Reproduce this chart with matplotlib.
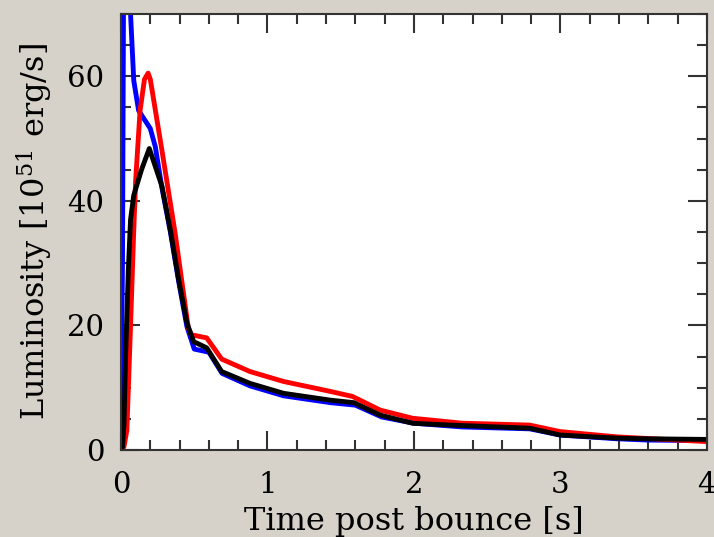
import matplotlib
matplotlib.use("Agg")
import matplotlib.pyplot as plt
from matplotlib.ticker import MultipleLocator

# Data
t_blue = [0.0, 0.01, 0.02, 0.03, 0.05, 0.065, 0.087, 0.12, 0.2, 0.234, 0.28, 0.337,
          0.394, 0.45, 0.5, 0.6, 0.69, 0.88, 1.11, 1.43, 1.6, 1.78, 2.0, 2.33, 2.79,
          3.0, 3.39, 3.59, 4.0]
L_blue = [6.7, 30.0, 90.0, 120.0, 95.0, 70.0, 59.3, 54.5, 51.6, 48.7, 42.0, 35.0,
          27.0, 19.8, 16.2, 15.7, 12.3, 10.3, 8.7, 7.6, 7.2, 5.3, 4.3, 3.7, 3.4,
          2.4, 1.8, 1.6, 1.5]

t_red = [0.0, 0.02, 0.04, 0.064, 0.087, 0.1, 0.13, 0.16, 0.185, 0.2, 0.28, 0.35,
         0.37, 0.46, 0.48, 0.585, 0.687, 0.88, 1.11, 1.43, 1.58, 1.77, 1.99, 2.33,
         2.79, 3.0, 3.39, 4.0]
L_red = [0.0, 0.5, 3.2, 19.3, 35.3, 43.3, 54.5, 59.5, 60.5, 59.5, 48.0, 37.7,
         34.7, 19.5, 18.5, 18.0, 14.6, 12.6, 11.0, 9.4, 8.6, 6.4, 5.1, 4.3,
         4.0, 2.95, 2.1, 1.35]

t_black = [0.0, 0.01, 0.02, 0.03, 0.05, 0.065, 0.087, 0.14, 0.193, 0.28, 0.337,
           0.394, 0.45, 0.496, 0.585, 0.687, 0.88, 1.11, 1.43, 1.59, 1.77, 1.99,
           2.25, 2.79, 3.0, 3.39, 3.59, 4.0]
L_black = [0.0, 0.5, 4.0, 14.0, 29.0, 37.0, 40.9, 45.0, 48.4, 42.3, 35.3,
           27.3, 20.4, 17.4, 16.4, 12.6, 10.7, 9.1, 8.0, 7.6, 5.6, 4.3,
           4.0, 3.5, 2.4, 1.9, 1.8, 1.7]

x_ticks = [0, 1, 2, 3, 4]
y_ticks = [0, 20, 40, 60]

plt.rcParams['font.family'] = ['DejaVu Serif']
plt.rcParams['mathtext.fontset'] = 'dejavuserif'
plt.rcParams['mathtext.default'] = 'regular'

bg = '#d6d1c9'
fig = plt.figure(figsize=(7.14, 5.37), dpi=100, facecolor=bg)
ax = fig.add_axes([0.1695, 0.162, 0.8205, 0.812])

lw = 3.5
ax.plot(t_blue, L_blue, color='#0000ff', lw=lw, solid_joinstyle='round')
ax.plot(t_red, L_red, color='#ff0000', lw=lw, solid_joinstyle='round')
ax.plot(t_black, L_black, color='#000000', lw=lw, solid_joinstyle='round')

ax.set_xlim(0, 4)
ax.set_ylim(0, 70)
ax.set_xticks(x_ticks)
ax.set_yticks(y_ticks)
ax.xaxis.set_minor_locator(MultipleLocator(0.2))
ax.yaxis.set_minor_locator(MultipleLocator(5))
ax.tick_params(which='both', direction='in', top=True, right=True,
               color='#333333', width=1.5)
ax.tick_params(which='major', length=14, labelsize=21)
ax.tick_params(axis='x', which='major', pad=15)
ax.tick_params(axis='y', which='major', pad=12)
ax.tick_params(which='minor', length=7)
for s in ax.spines.values():
    s.set_linewidth(1.5)
    s.set_color('#333333')

ax.set_xlabel('Time post bounce [s]', fontsize=23, labelpad=5)
ax.set_ylabel('Luminosity [10$^{51}$ erg/s]', fontsize=23, labelpad=9)

fig.savefig('out.png', dpi=100, facecolor=bg)
